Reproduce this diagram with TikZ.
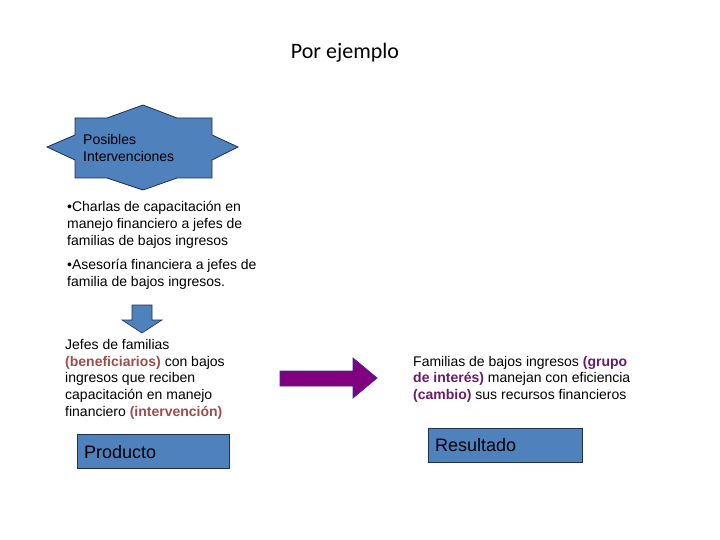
\documentclass[tikz,border=0pt]{standalone}
\usepackage{fontspec}
\setmainfont{Liberation Sans}
\newfontfamily\titlefont{Carlito}
\definecolor{boxblue}{HTML}{4F81BD}
\definecolor{boxline}{HTML}{1F2F4F}
\definecolor{redbrown}{HTML}{A04B4B}
\definecolor{darkpurple}{HTML}{6B1A6B}
\definecolor{arrowpurple}{HTML}{800080}
\definecolor{arrowline}{HTML}{3A2FA0}
\tikzset{
  body/.style={anchor=north west, inner sep=0pt, align=left, font=\fontsize{14}{16.8}\selectfont},
  labelbox/.style={draw=boxline, fill=boxblue, line width=0.8pt},
  boxtext/.style={anchor=base west, inner sep=0pt, font=\fontsize{18}{20}\selectfont},
}
\begin{document}
\begin{tikzpicture}[x=1pt,y=-1pt]
\useasboundingbox (0,0) rectangle (720,540);
% title
\node[anchor=base, inner sep=0pt, font=\titlefont\fontsize{22}{24}\selectfont] (title) at (345,59) {Por ejemplo};
% star
\filldraw[fill=boxblue, draw=boxline, line width=0.8pt]
  (75,118) -- (107,118) -- (143,105) -- (177,118) -- (212,118) -- (212,135) -- (238,147)
  -- (212,160) -- (212,178) -- (177,178) -- (143,190) -- (107,178) -- (75,178) -- (75,160)
  -- (47,147) -- (75,135) -- cycle;
\node[body, font=\fontsize{14}{17}\selectfont] (star) at (83,134) {Posibles\\Intervenciones};
% bullets
\node[body] (b1) at (67,201) {•Charlas de capacitación en\\manejo financiero a jefes de\\familias de bajos ingresos};
\node[body] (b2) at (67,259) {•Asesoría financiera a jefes de\\familia de bajos ingresos.};
% down arrow
\filldraw[fill=boxblue, draw=boxline, line width=0.6pt]
  (132,305) -- (152,305) -- (152,320) -- (162,320) -- (142,333) -- (122,320) -- (132,320) -- cycle;
% product text
\node[body] (prod) at (65,339) {Jefes de familias\\\textcolor{redbrown}{\textbf{(beneficiarios)}} con bajos\\ingresos que reciben\\capacitación en manejo\\financiero \textcolor{redbrown}{\textbf{(intervención)}}};
% producto box
\draw[labelbox] (77,434) rectangle (229,468);
\node[boxtext] (producto) at (84,458) {Producto};
% purple arrow
\filldraw[fill=arrowpurple, draw=arrowline, line width=0.8pt]
  (280,371) -- (353,371) -- (353,358) -- (377,378) -- (353,398) -- (353,386) -- (280,386) -- cycle;
% result text
\node[body, font=\fontsize{14}{16.5}\selectfont] (res) at (413,356) {Familias de bajos ingresos \textcolor{darkpurple}{\textbf{(grupo}}\\\textcolor{darkpurple}{\textbf{de interés)}} manejan con eficiencia\\\textcolor{darkpurple}{\textbf{(cambio)}} sus recursos financieros};
% resultado box
\draw[labelbox] (428,428) rectangle (582,462);
\node[boxtext] (resultado) at (435,451) {Resultado};
\end{tikzpicture}
\end{document}
